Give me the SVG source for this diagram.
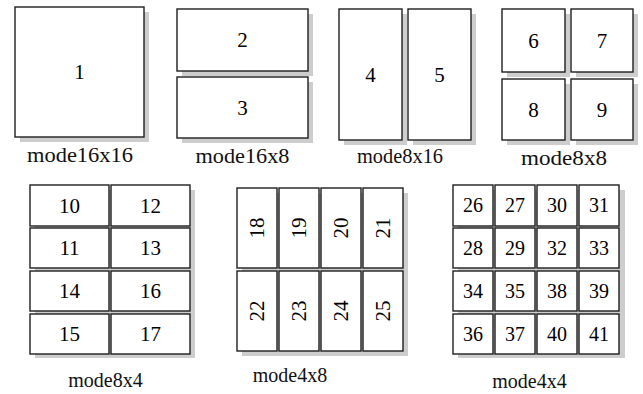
<svg xmlns="http://www.w3.org/2000/svg" width="643" height="394" viewBox="0 0 643 394">
<rect width="643" height="394" fill="#fff"/>

<g id="shadows" fill="#cdcdcd">
<rect x="20" y="12" width="129" height="130"/>
<rect x="182" y="14" width="131" height="62"/>
<rect x="182" y="82" width="131" height="61"/>
<rect x="344" y="14" width="63" height="131"/>
<rect x="413" y="14" width="63" height="131"/>
<rect x="507" y="14" width="63" height="63"/>
<rect x="576" y="14" width="62" height="63"/>
<rect x="507" y="84" width="63" height="61"/>
<rect x="576" y="84" width="62" height="61"/>
<rect x="35" y="190" width="160" height="168"/>
<rect x="242" y="193" width="166" height="163"/>
<rect x="458" y="190" width="167" height="168"/>
</g>

<g id="nodes" font-family="Liberation Serif" font-size="21" text-anchor="middle">
<g id="n1"><rect fill="#fff" stroke="#1e1e1e" stroke-width="1.4" x="15" y="7" width="129" height="130"/><text x="79.5" y="79">1</text></g>
<g id="n2"><rect fill="#fff" stroke="#1e1e1e" stroke-width="1.4" x="177" y="9" width="131" height="62"/><text x="242.5" y="47">2</text></g>
<g id="n3"><rect fill="#fff" stroke="#1e1e1e" stroke-width="1.4" x="177" y="77" width="131" height="61"/><text x="242.5" y="115">3</text></g>
<g id="n4"><rect fill="#fff" stroke="#1e1e1e" stroke-width="1.4" x="339" y="9" width="63" height="131"/><text x="370.5" y="82">4</text></g>
<g id="n5"><rect fill="#fff" stroke="#1e1e1e" stroke-width="1.4" x="408" y="9" width="63" height="131"/><text x="439.5" y="82">5</text></g>
<g id="n6"><rect fill="#fff" stroke="#1e1e1e" stroke-width="1.4" x="502" y="9" width="63" height="63"/><text x="533.5" y="48">6</text></g>
<g id="n7"><rect fill="#fff" stroke="#1e1e1e" stroke-width="1.4" x="571" y="9" width="62" height="63"/><text x="602" y="48">7</text></g>
<g id="n8"><rect fill="#fff" stroke="#1e1e1e" stroke-width="1.4" x="502" y="79" width="63" height="61"/><text x="533.5" y="117">8</text></g>
<g id="n9"><rect fill="#fff" stroke="#1e1e1e" stroke-width="1.4" x="571" y="79" width="62" height="61"/><text x="602" y="117">9</text></g>

<g id="n10"><rect fill="#fff" stroke="#1e1e1e" stroke-width="1.4" x="30" y="185" width="79" height="41"/><text x="69.5" y="213">10</text></g>
<g id="n12"><rect fill="#fff" stroke="#1e1e1e" stroke-width="1.4" x="111" y="185" width="79" height="41"/><text x="150.5" y="213">12</text></g>
<g id="n11"><rect fill="#fff" stroke="#1e1e1e" stroke-width="1.4" x="30" y="228" width="79" height="40"/><text x="69.5" y="255">11</text></g>
<g id="n13"><rect fill="#fff" stroke="#1e1e1e" stroke-width="1.4" x="111" y="228" width="79" height="40"/><text x="150.5" y="255">13</text></g>
<g id="n14"><rect fill="#fff" stroke="#1e1e1e" stroke-width="1.4" x="30" y="271" width="79" height="40"/><text x="69.5" y="298">14</text></g>
<g id="n16"><rect fill="#fff" stroke="#1e1e1e" stroke-width="1.4" x="111" y="271" width="79" height="40"/><text x="150.5" y="298">16</text></g>
<g id="n15"><rect fill="#fff" stroke="#1e1e1e" stroke-width="1.4" x="30" y="314" width="79" height="40"/><text x="69.5" y="341">15</text></g>
<g id="n17"><rect fill="#fff" stroke="#1e1e1e" stroke-width="1.4" x="111" y="314" width="79" height="40"/><text x="150.5" y="341">17</text></g>

<g id="n18"><rect fill="#fff" stroke="#1e1e1e" stroke-width="1.4" x="237" y="188" width="40" height="80"/><text x="257" y="235" transform="rotate(-90 257 228)">18</text></g>
<g id="n19"><rect fill="#fff" stroke="#1e1e1e" stroke-width="1.4" x="279" y="188" width="40" height="80"/><text x="299" y="235" transform="rotate(-90 299 228)">19</text></g>
<g id="n20"><rect fill="#fff" stroke="#1e1e1e" stroke-width="1.4" x="321" y="188" width="40" height="80"/><text x="341" y="235" transform="rotate(-90 341 228)">20</text></g>
<g id="n21"><rect fill="#fff" stroke="#1e1e1e" stroke-width="1.4" x="363" y="188" width="40" height="80"/><text x="383" y="235" transform="rotate(-90 383 228)">21</text></g>
<g id="n22"><rect fill="#fff" stroke="#1e1e1e" stroke-width="1.4" x="237" y="271" width="40" height="80"/><text x="257" y="318" transform="rotate(-90 257 311)">22</text></g>
<g id="n23"><rect fill="#fff" stroke="#1e1e1e" stroke-width="1.4" x="279" y="271" width="40" height="80"/><text x="299" y="318" transform="rotate(-90 299 311)">23</text></g>
<g id="n24"><rect fill="#fff" stroke="#1e1e1e" stroke-width="1.4" x="321" y="271" width="40" height="80"/><text x="341" y="318" transform="rotate(-90 341 311)">24</text></g>
<g id="n25"><rect fill="#fff" stroke="#1e1e1e" stroke-width="1.4" x="363" y="271" width="40" height="80"/><text x="383" y="318" transform="rotate(-90 383 311)">25</text></g>

<g id="grid4x4" font-size="20">
<g id="n26"><rect fill="#fff" stroke="#1e1e1e" stroke-width="1.4" x="453" y="185" width="40" height="41"/><text x="473" y="212">26</text></g>
<g id="n27"><rect fill="#fff" stroke="#1e1e1e" stroke-width="1.4" x="495" y="185" width="40" height="41"/><text x="515" y="212">27</text></g>
<g id="n30"><rect fill="#fff" stroke="#1e1e1e" stroke-width="1.4" x="537" y="185" width="40" height="41"/><text x="557" y="212">30</text></g>
<g id="n31"><rect fill="#fff" stroke="#1e1e1e" stroke-width="1.4" x="579" y="185" width="40" height="41"/><text x="599" y="212">31</text></g>
<g id="n28"><rect fill="#fff" stroke="#1e1e1e" stroke-width="1.4" x="453" y="228" width="40" height="40"/><text x="473" y="255">28</text></g>
<g id="n29"><rect fill="#fff" stroke="#1e1e1e" stroke-width="1.4" x="495" y="228" width="40" height="40"/><text x="515" y="255">29</text></g>
<g id="n32"><rect fill="#fff" stroke="#1e1e1e" stroke-width="1.4" x="537" y="228" width="40" height="40"/><text x="557" y="255">32</text></g>
<g id="n33"><rect fill="#fff" stroke="#1e1e1e" stroke-width="1.4" x="579" y="228" width="40" height="40"/><text x="599" y="255">33</text></g>
<g id="n34"><rect fill="#fff" stroke="#1e1e1e" stroke-width="1.4" x="453" y="271" width="40" height="40"/><text x="473" y="298">34</text></g>
<g id="n35"><rect fill="#fff" stroke="#1e1e1e" stroke-width="1.4" x="495" y="271" width="40" height="40"/><text x="515" y="298">35</text></g>
<g id="n38"><rect fill="#fff" stroke="#1e1e1e" stroke-width="1.4" x="537" y="271" width="40" height="40"/><text x="557" y="298">38</text></g>
<g id="n39"><rect fill="#fff" stroke="#1e1e1e" stroke-width="1.4" x="579" y="271" width="40" height="40"/><text x="599" y="298">39</text></g>
<g id="n36"><rect fill="#fff" stroke="#1e1e1e" stroke-width="1.4" x="453" y="314" width="40" height="40"/><text x="473" y="341">36</text></g>
<g id="n37"><rect fill="#fff" stroke="#1e1e1e" stroke-width="1.4" x="495" y="314" width="40" height="40"/><text x="515" y="341">37</text></g>
<g id="n40"><rect fill="#fff" stroke="#1e1e1e" stroke-width="1.4" x="537" y="314" width="40" height="40"/><text x="557" y="341">40</text></g>
<g id="n41"><rect fill="#fff" stroke="#1e1e1e" stroke-width="1.4" x="579" y="314" width="40" height="40"/><text x="599" y="341">41</text></g>
</g>
</g>

<g id="labels" font-family="Liberation Serif" font-size="20" text-anchor="middle" fill="#111">
<text x="80" y="162" textLength="106" lengthAdjust="spacingAndGlyphs">mode16x16</text>
<text x="242.5" y="163" textLength="94" lengthAdjust="spacingAndGlyphs">mode16x8</text>
<text x="400" y="163" textLength="86" lengthAdjust="spacingAndGlyphs">mode8x16</text>
<text x="564" y="165" textLength="86" lengthAdjust="spacingAndGlyphs">mode8x8</text>
<text x="105.5" y="387">mode8x4</text>
<text x="290" y="382">mode4x8</text>
<text x="529.5" y="388">mode4x4</text>
</g>
</svg>
